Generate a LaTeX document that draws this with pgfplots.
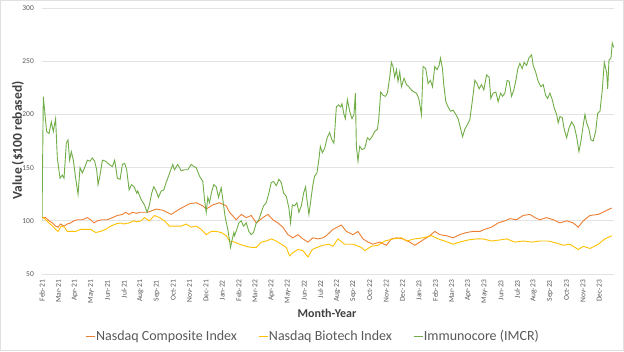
\documentclass[border=0pt]{standalone}
\usepackage{pgfplots}
\pgfplotsset{compat=1.18}
\usepackage{fontspec}
\setmainfont{Carlito}
\definecolor{orangeS}{HTML}{ED7D31}
\definecolor{goldS}{HTML}{FFC000}
\definecolor{greenS}{HTML}{70AD47}
\definecolor{gridc}{HTML}{E3E3E3}
\definecolor{tickc}{HTML}{595959}
\definecolor{titlec}{HTML}{404040}
\begin{document}
\begin{tikzpicture}[x=1pt,y=1pt]
\path[use as bounding box] (0,0) rectangle (624,351);
\draw[draw=black!12, line width=0.6pt] (0.5,0.5) rectangle (623.5,350.5);
\begin{axis}[
  at={(42pt,77pt)}, anchor=south west,
  width=572pt, height=266pt, scale only axis,
  xmin=0, xmax=34.9, ymin=50, ymax=300,
  x filter/.expression={(x-42.7)/16.37},
  xtick={0,1,...,34},
  xticklabels={Feb-21,Mar-21,Apr-21,May-21,Jun-21,Jul-21,Aug-21,Sep-21,Oct-21,Nov-21,Dec-21,
    Jan-22,Feb-22,Mar-22,Apr-22,May-22,Jun-22,Jul-22,Aug-22,Sep-22,Oct-22,Nov-22,Dec-22,
    Jan-23,Feb-23,Mar-23,Apr-23,May-23,Jun-23,Jul-23,Aug-23,Sep-23,Oct-23,Nov-23,Dec-23},
  ytick={50,100,...,300},
  ymajorgrids, grid style={draw=gridc, line width=0.6pt},
  axis line style={draw=none},
  major tick length=0pt,
  tick label style={font=\fontsize{7.5}{9}\selectfont, text=tickc},
  /pgf/number format/assume math mode=true,
  xticklabel style={yshift=-6pt, rotate=90, anchor=east, inner sep=0pt},
  yticklabel style={xshift=-8pt, inner sep=0pt},
  legend columns=3,
  legend style={at={(0.473,-0.233)}, anchor=center, draw=none, fill=none,
    font=\fontsize{14}{16}\selectfont, text=tickc,
    nodes={inner sep=0.5pt},
    /tikz/every even column/.append style={column sep=21pt}},
  legend image code/.code={\draw[#1] (0pt,0pt) -- (9pt,0pt);},
]
\addplot[orangeS, line width=0.9pt] coordinates {
(42.7,103)(46.3,103)(49.7,100)(53,98)(56.3,95)(58.7,94)(61.3,97)(64.7,95)(68,97)(71.3,98)
(74.7,100)(78,101)(83,101)(88,103)(91.3,101)(94.7,98)(98,100)(103,101)(108,101)(113,103)
(118,105)(123,106)(126.3,108)(129.7,106)(133,108)(137.3,107)(140,108)(148.3,108)(156.7,111)
(163.3,110)(171.7,106)(180,111)(190,116)(196.7,117)(203.3,114)(206.7,111)(213.3,115)(220,117)
(226.7,114)(230,108)(236.7,101)(241.7,106)(246.7,103)(251.7,105)(256.7,98)(263.3,103)(268.3,106)
(273.3,101)(278.3,98)(283.3,94)(288.3,87)(293.3,84)(298.3,87)(303.3,83)(308.3,80)(313.3,84)
(318.3,83)(323.3,84)(326.7,86)(333.3,92)(341.7,96)(346.7,90)(353.3,87)(358.3,90)(363.3,83)
(368.3,80)(373.3,78)(380,80)(386.7,77)(391.7,83)(396.7,84)(403.3,83)(410,80)(415,77)(420,80)
(425,83)(430,86)(435,90)(440,87)(446.7,86)(453.3,84)(460,87)(466.7,89)(473.3,90)(480,90)
(485,92)(491.7,94)(498.3,98)(505,100)(510,102)(516.7,101)(523.3,105)(530,106)(535,103)(540,101)
(546.7,103)(553.3,101)(560,98)(566.7,100)(573.3,98)(578.3,94)(583.3,100)(590,105)(598.3,106)
(605,109)(611.7,112)
};
\addlegendentry{Nasdaq Composite Index}
\addplot[goldS, line width=0.9pt] coordinates {
(42.7,104)(46.3,101)(49.7,98)(53,95)(56.3,92)(58.7,90)(62,95)(65.3,94)(68,90)(71.3,90)
(76.3,90)(81.3,92)(86.3,92)(91.3,92)(96.3,89)(101.3,90)(106.3,92)(111.3,95)(116.3,97)(121.3,98)
(124.7,97)(129.7,98)(134.7,100)(137.3,99)(141.7,100)(145,103)(150,100)(155,105)(160,103)(165,100)
(170,95)(176.7,95)(181.7,95)(186.7,97)(191.7,94)(196.7,95)(201.7,92)(206.7,87)(211.7,90)(216.7,90)
(221.7,89)(226.7,86)(230,81)(235,80)(240,78)(246.7,76)(251.7,75)(256.7,75)(261.7,80)(266.7,81)
(271.7,83)(276.7,81)(281.7,78)(286.7,75)(290,67)(293.3,70)(298.3,73)(303.3,72)(308.3,66)(312.7,73)
(317.3,75)(323.3,77)(329.3,78)(333.3,76)(338.3,83)(345,78)(353.3,78)(361.7,75)(365,72)(371.7,76)
(378.3,77)(385,81)(393.3,83)(401.7,84)(406.7,81)(415,83)(423.3,84)(431.7,86)(438.3,83)(445,81)
(453.3,78)(460,80)(468.3,82)(476.7,83)(483.3,83)(491.7,81)(500,82)(506.7,83)(515,80)(523.3,81)
(531.7,80)(540,81)(548.3,81)(556.7,79)(563.3,77)(570,78)(578.3,73)(583.3,76)(590,74)(598.3,78)
(605,83)(611.7,86)
};
\addlegendentry{Nasdaq Biotech Index}
\addplot[greenS, line width=0.9pt] coordinates {
(42.7,100)(44,216.6)(45.3,204)(47.3,184)(49.7,182)(52,193)(54,184)(56.3,196)(58,159)(60.7,140)
(63,143)(64.7,140)(67,173)(68.7,176)(70.3,157)(72,165)(74,157)(76.3,140)(78.7,125)(80.7,150)
(83,145)(85.3,150)(88,157)(90.7,156)(93,159)(95.3,156)(97.3,148)(98.7,134)(100.7,143)(103,157)
(106.3,156)(109.7,153)(113,151)(115.3,157)(118,140)(120.7,139)(123,153)(125.3,154)(127.3,148)
(129.7,129)(132,134)(134.7,132)(137.3,126)(138.3,128)(141.7,120)(145,115)(147.7,108)(150,115)
(152.3,126)(154.3,132)(156.7,128)(159,122)(161.7,128)(164.3,129)(166.7,136)(168.3,140)(171,147)
(173.3,153)(175,148)(178.3,153)(181.7,147)(185,148)(188.3,148)(191.7,153)(194.3,151)(196.7,150)
(200,142)(203.3,137)(205,120)(206.7,108)(208.3,122)(210,117)(212.3,128)(214.3,134)(216.7,132)
(219,122)(221.7,131)(223.3,120)(225.7,103)(228.3,92)(231,75)(232.3,81)(234.3,89)(235,86)
(237.3,92)(239.3,98)(241.7,100)(244,95)(246.7,98)(249.3,90)(251.7,87)(254,89)(256.7,98)
(259.3,101)(261.7,108)(264,114)(266.7,117)(269.3,126)(271.7,136)(274,137)(276.7,133)(279.3,139)
(281.7,136)(284,126)(286.7,123)(289.3,112)(291,98)(292.7,115)(295,114)(297.3,117)(299.3,108)
(301.7,114)(304,126)(306,132)(307.3,120)(309.3,106)(311.7,123)(313.3,134)(315,142)(317.3,145)
(319.3,158)(320.7,170)(322.7,164)(325,168)(327.5,178)(330,183)(332.3,176)(334.3,173)(336.7,207)
(339,209)(341,207)(342.3,210)(344.3,200)(345.7,196)(347.7,214)(350,203)(352.3,196)(354.3,200)
(355.7,220)(356.7,170)(358.3,156)(360,170)(362.3,167)(365,168)(367.7,178)(370,176)(372.3,179)
(375,184)(377.7,186)(379,195)(381,221)(383.3,218)(385.7,217)(387.7,220)(390,235)(391.7,249)
(393.3,245)(395,235)(396.7,242)(398.3,231)(400,240)(401.7,226)(404.3,234)(406.7,228)(409,226)
(411.7,223)(414.3,221)(416.7,220)(419,215)(421.7,200)(423.3,245)(426,243)(428.3,229)(430.7,232)
(432.7,226)(435,245)(437.3,242)(439.3,246)(440.7,253)(442.7,243)(444,228)(446,212)(448.3,207)
(450.7,203)(453.3,204)(456,200)(458.3,196)(460.7,187)(462.7,179)(465,186)(467.3,190)(470,195)
(472.7,214)(475,232)(477.3,229)(479.3,224)(481.7,228)(484,223)(486.7,237)(489.3,235)(491,215)
(493.3,220)(496,221)(498.3,212)(500.7,220)(502.7,217)(505,220)(507.3,232)(509.3,231)(511.7,217)
(514,223)(516,232)(518,243)(520,248)(522.3,243)(524.3,249)(526.7,246)(529,253)(531.7,256)
(533.3,246)(535.7,240)(538.3,231)(541,226)(543.3,228)(545.7,218)(547.7,215)(550,220)(552.3,214)
(554.3,206)(556.7,200)(558.3,192)(560,198)(562.3,197)(564.3,186)(566.7,178)(569,187)(571.7,193)
(574.3,189)(576.7,179)(579,165)(581,175)(583.3,190)(585,200)(586.7,192)(589,186)(591,176)
(593.3,175)(595.7,184)(597.7,201)(600,203)(602.3,223)(604.3,249)(606.7,239)(607.7,224)(609,251)
(611,253)(612.3,267)(613.7,263)
};
\addlegendentry{Immunocore (IMCR)}
\end{axis}
\node[font=\bfseries\fontsize{12}{14}\selectfont, text=titlec] at (327,38) {Month-Year};
\node[font=\bfseries\fontsize{13.5}{16}\selectfont, text=titlec, rotate=90] at (18,210.5) {Value (\$100 rebased)};
\end{tikzpicture}
\end{document}
